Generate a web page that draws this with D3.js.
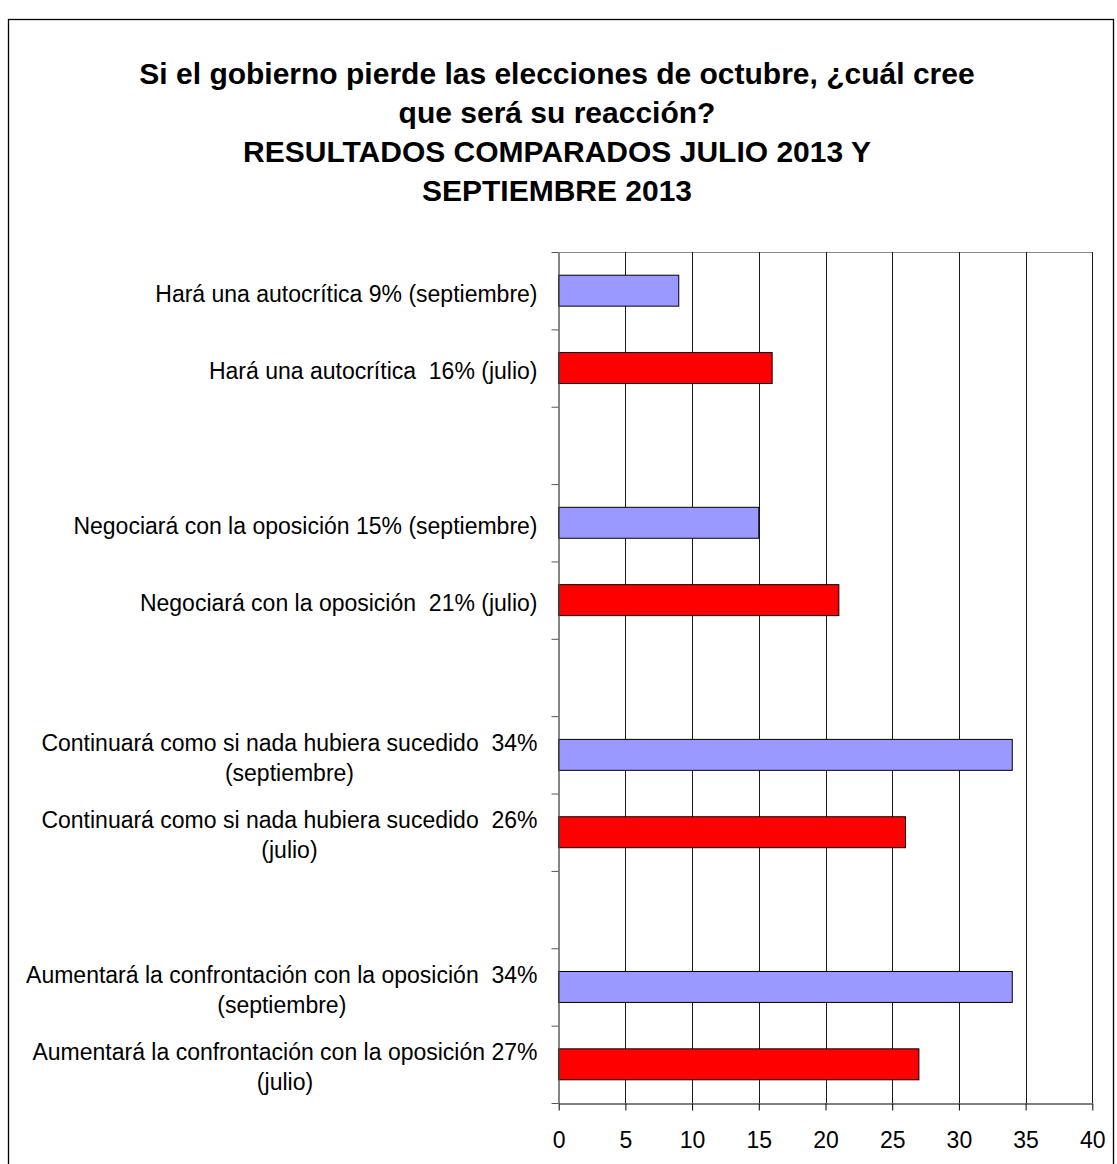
<!DOCTYPE html>
<html>
<head>
<meta charset="utf-8">
<script src="https://cdn.jsdelivr.net/npm/d3@7"></script>
<style>
  html, body { margin: 0; padding: 0; background: #fff; }
  svg { display: block; }
  text { font-family: "Liberation Sans", Arial, sans-serif; fill: #000; }
</style>
</head>
<body>
<svg id="chart" width="1117" height="1164"></svg>
<script>
const titleLines = [
  "Si el gobierno pierde las elecciones de octubre, ¿cuál cree",
  "que será su reacción?",
  "RESULTADOS COMPARADOS JULIO 2013 Y",
  "SEPTIEMBRE 2013"
];

// one slot per row, top to bottom; empty strings are the blank spacer rows
const categories = [
  "Hará una autocrítica 9% (septiembre)",
  "Hará una autocrítica  16% (julio)",
  "",
  "Negociará con la oposición 15% (septiembre)",
  "Negociará con la oposición  21% (julio)",
  "",
  "Continuará como si nada hubiera sucedido  34%\n(septiembre)",
  "Continuará como si nada hubiera sucedido  26%\n(julio)",
  "",
  "Aumentará la confrontación con la oposición  34%\n(septiembre)",
  "Aumentará la confrontación con la oposición 27%\n(julio)"
];
const seriesOfRow = ["septiembre", "julio", "", "septiembre", "julio", "", "septiembre", "julio", "", "septiembre", "julio"];
const values = [9, 16, null, 15, 21, null, 34, 26, null, 34, 27];
const seriesNames = ["septiembre", "julio"];
const seriesColors = ["#9999FF", "#FF0000"];
const xTicks = [0, 5, 10, 15, 20, 25, 30, 35, 40];

const svg = d3.select("#chart");
const W = 1117, H = 1164;

// outer frame
svg.append("rect")
  .attr("x", 8.5).attr("y", 19.5)
  .attr("width", 1105).attr("height", 1200)
  .attr("fill", "#fff").attr("stroke", "#000").attr("stroke-width", 1.3);

// title
const title = svg.append("text")
  .attr("text-anchor", "middle")
  .style("font-weight", "bold")
  .style("font-size", "30px");
titleLines.forEach((t, i) => {
  title.append("tspan").attr("x", 557).attr("y", 84 + i * 39).text(t);
});

const plot = { left: 558.7, right: 1092.3, top: 252, bottom: 1103 };

const x = d3.scaleLinear().domain([0, 40]).range([plot.left, plot.right]);
const y = d3.scaleBand()
  .domain(d3.range(categories.length))
  .range([plot.top, plot.bottom])
  .paddingInner(0.6)
  .paddingOuter(0.3);
const yEdge = d3.scaleLinear().domain([0, categories.length]).range([plot.top, plot.bottom]);
const color = d3.scaleOrdinal().domain(seriesNames).range(seriesColors);

// top border of plot area
svg.append("line")
  .attr("x1", plot.left).attr("x2", plot.right)
  .attr("y1", plot.top + 0.5).attr("y2", plot.top + 0.5)
  .attr("stroke", "#888").attr("stroke-width", 1);

// vertical gridlines
svg.append("g")
  .selectAll("line")
  .data(xTicks.filter(d => d > 0))
  .join("line")
  .attr("x1", d => Math.round(x(d)) + 0.5)
  .attr("x2", d => Math.round(x(d)) + 0.5)
  .attr("y1", plot.top).attr("y2", plot.bottom)
  .attr("stroke", "#1a1a1a").attr("stroke-width", 1);

// bars
const rows = categories.map((c, i) => ({ i, label: c, value: values[i], series: seriesOfRow[i] }));
svg.append("g")
  .selectAll("rect")
  .data(rows.filter(d => d.value != null))
  .join("rect")
  .attr("x", x(0))
  .attr("y", d => y(d.i))
  .attr("width", d => x(d.value) - x(0))
  .attr("height", y.bandwidth())
  .attr("fill", d => color(d.series))
  .attr("stroke", "#000")
  .attr("stroke-width", 1);

// left axis (ticks between categories)
const gy = svg.append("g")
  .attr("transform", `translate(${Math.round(plot.left) - 0.5},0)`)
  .call(d3.axisLeft(yEdge).tickValues(d3.range(categories.length + 1)).tickFormat("").tickSize(7).tickSizeOuter(0));
gy.select(".domain").attr("stroke", "#444").attr("stroke-width", 1.3);
gy.selectAll(".tick line").attr("stroke", "#555");

// bottom axis
const gx = svg.append("g")
  .attr("transform", `translate(0,${plot.bottom + 0.5})`)
  .call(d3.axisBottom(x).tickValues(xTicks).tickSize(7).tickSizeOuter(0).tickPadding(21));
gx.select(".domain").attr("stroke", "#000").attr("stroke-width", 1);
gx.selectAll(".tick line").attr("stroke", "#000");
gx.selectAll(".tick text")
  .style("font-size", "23px")
  .style("font-family", "'Liberation Sans', Arial, sans-serif")
  .attr("fill", "#000");

// category labels
const labelRight = 537.5;
const lineH = 30;
const lg = svg.append("g").style("font-size", "23px");
rows.filter(d => d.label !== "").forEach(d => {
  const lines = d.label.split("\n");
  const cy = y(d.i) + y.bandwidth() / 2;
  const t = lg.append("text").attr("text-anchor", "middle").style("white-space", "pre");
  const spans = lines.map((ln, k) =>
    t.append("tspan")
      .attr("y", cy + 11 + (k - (lines.length - 1) / 2) * lineH)
      .text(ln));
  const maxW = d3.max(spans, s => s.node().getComputedTextLength());
  spans.forEach(s => s.attr("x", labelRight - maxW / 2));
});
</script>
</body>
</html>
